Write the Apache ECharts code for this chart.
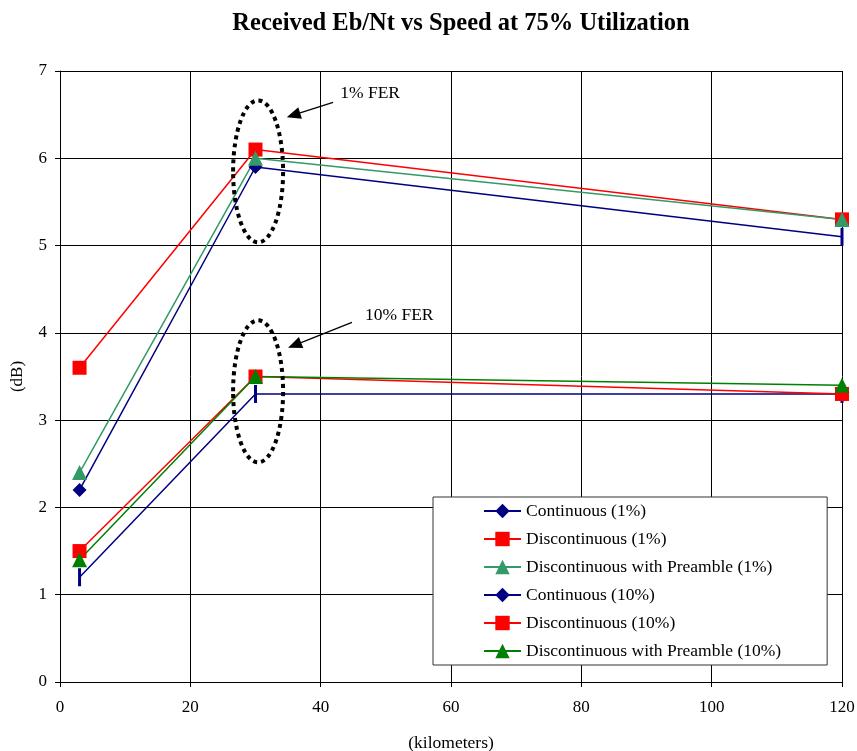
<!DOCTYPE html>
<html>
<head>
<meta charset="utf-8">
<script src="https://cdn.jsdelivr.net/npm/echarts@6/dist/echarts.min.js"></script>
<style>html,body{margin:0;padding:0;background:#fff;}#c{width:857px;height:751px;}</style>
</head>
<body>
<div id="c"></div>
<script>
const speeds = [3, 30, 120];
const xTicks = [0, 20, 40, 60, 80, 100, 120];
const yTicks = [0, 1, 2, 3, 4, 5, 6, 7];
const seriesNames = [
  'Continuous (1%)', 'Discontinuous (1%)', 'Discontinuous with Preamble (1%)',
  'Continuous (10%)', 'Discontinuous (10%)', 'Discontinuous with Preamble (10%)'
];
const continuous1 = [2.2, 5.9, 5.1];
const discontinuous1 = [3.6, 6.1, 5.3];
const preamble1 = [2.4, 6.0, 5.3];
const continuous10 = [1.2, 3.3, 3.3];
const discontinuous10 = [1.5, 3.5, 3.3];
const preamble10 = [1.4, 3.5, 3.4];

const FONT = '"Liberation Serif", "Times New Roman", serif';
const chart = echarts.init(document.getElementById('c'));

const DASH = {symbol: 'rect', symbolSize: [3, 18]};
function pts(vals, dashIdx) {
  return vals.map((v, i) => {
    const item = {value: [speeds[i], v]};
    if (dashIdx.indexOf(i) >= 0) Object.assign(item, DASH);
    return item;
  });
}
function mk(name, vals, color, symbol, size, dashIdx) {
  return {
    name: name, type: 'line', data: pts(vals, dashIdx || []),
    symbol: symbol, symbolSize: size, showAllSymbol: true,
    lineStyle: {color: color, width: 1.5},
    itemStyle: {color: color},
    emphasis: {disabled: true}, animation: false
  };
}

chart.setOption({
  animation: false,
  backgroundColor: '#fff',
  title: {
    text: 'Received Eb/Nt vs Speed at 75% Utilization',
    left: 456, textAlign: 'center', top: 6,
    textStyle: {fontFamily: FONT, fontSize: 24.5, fontWeight: 'bold', color: '#000'}
  },
  grid: {left: 60, right: 15, top: 71, bottom: 69, containLabel: false, outerBoundsMode: 'none', show: false},
  xAxis: {
    type: 'value', min: 0, max: 120, interval: 20,
    name: '(kilometers)', nameLocation: 'middle', nameGap: 52,
    nameTextStyle: {fontFamily: FONT, fontSize: 17.5, color: '#000'},
    axisLine: {show: true, lineStyle: {color: '#000', width: 1}},
    axisTick: {show: true, inside: false, length: 5, lineStyle: {color: '#000'}},
    axisLabel: {fontFamily: FONT, fontSize: 17, color: '#000', margin: 17,
      formatter: v => xTicks.indexOf(v) >= 0 ? String(v) : ''},
    splitLine: {show: true, lineStyle: {color: '#000', width: 1}}
  },
  yAxis: {
    type: 'value', min: 0, max: 7, interval: 1,
    name: '(dB)', nameLocation: 'middle', nameGap: 34, nameRotate: 90,
    nameTextStyle: {fontFamily: FONT, fontSize: 17, color: '#000'},
    axisLine: {show: true, lineStyle: {color: '#000', width: 1}},
    axisTick: {show: true, inside: false, length: 5, lineStyle: {color: '#000'}},
    axisLabel: {fontFamily: FONT, fontSize: 17, color: '#000', margin: 13,
      formatter: v => yTicks.indexOf(v) >= 0 ? String(v) : ''},
    splitLine: {show: true, lineStyle: {color: '#000', width: 1}}
  },
  legend: {
    orient: 'vertical', left: 433, top: 497,
    data: seriesNames,
    backgroundColor: '#fff', borderColor: '#333', borderWidth: 1,
    padding: [5, 46, 5, 50], itemGap: 10, itemWidth: 37, itemHeight: 18,
    textStyle: {fontFamily: FONT, fontSize: 17.5, color: '#000'},
    selectedMode: false
  },
  series: [
    mk(seriesNames[0], continuous1, '#000080', 'diamond', 14, [2]),
    mk(seriesNames[1], discontinuous1, '#FF0000', 'rect', 14),
    mk(seriesNames[2], preamble1, '#339966', 'triangle', 15),
    mk(seriesNames[3], continuous10, '#000080', 'diamond', 14, [0, 1, 2]),
    mk(seriesNames[4], discontinuous10, '#FF0000', 'rect', 14),
    mk(seriesNames[5], preamble10, '#008000', 'triangle', 15)
  ]
});

// Annotations (ellipses, arrows, labels) positioned in data coordinates
const ellipses = [
  {c: [30.4, 5.85], rx: 25, ry: 71},
  {c: [30.4, 3.33], rx: 25, ry: 71}
];
const arrows = [
  {from: [41.9, 6.64], to: [34.8, 6.47], label: '1% FER', at: [43.0, 6.74]},
  {from: [44.8, 4.12], to: [35.0, 3.83], label: '10% FER', at: [46.8, 4.20]}
];
const px = p => chart.convertToPixel({gridIndex: 0}, p);
const g = [];
ellipses.forEach(e => {
  const c = px(e.c);
  g.push({type: 'ellipse', z: 100, shape: {cx: c[0], cy: c[1], rx: e.rx, ry: e.ry},
    style: {fill: null, stroke: '#000', lineWidth: 4, lineDash: [4, 4]}});
});
arrows.forEach(a => {
  const f = px(a.from), t = px(a.to);
  const dx = t[0] - f[0], dy = t[1] - f[1];
  const L = Math.sqrt(dx * dx + dy * dy), ux = dx / L, uy = dy / L;
  const hl = 14, hw = 6;
  const bx = t[0] - ux * hl, by = t[1] - uy * hl;
  g.push({type: 'line', z: 100, shape: {x1: f[0], y1: f[1], x2: bx, y2: by},
    style: {stroke: '#000', lineWidth: 1.3}});
  g.push({type: 'polygon', z: 100, shape: {points: [
    [t[0], t[1]], [bx - uy * hw, by + ux * hw], [bx + uy * hw, by - ux * hw]]},
    style: {fill: '#000'}});
  const p = px(a.at);
  g.push({type: 'text', z: 100, x: p[0], y: p[1],
    style: {text: a.label, fontFamily: FONT, fontSize: 17.5, fill: '#000',
      textAlign: 'left', textVerticalAlign: 'middle'}});
});
chart.setOption({graphic: g});
</script>
</body>
</html>
